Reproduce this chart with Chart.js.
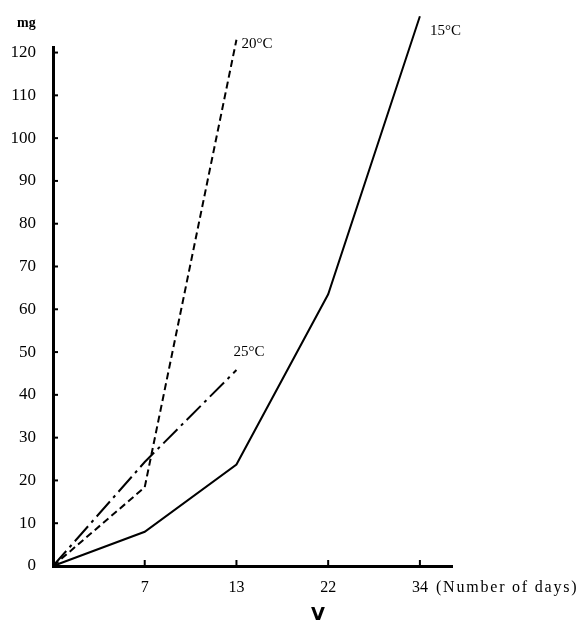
<!DOCTYPE html>
<html>
<head>
<meta charset="utf-8">
<script src="https://cdn.jsdelivr.net/npm/chart.js@4.4.1/dist/chart.umd.min.js"></script>
<style>
  html, body { margin: 0; padding: 0; background: #fff; }
  #wrap { position: relative; width: 581px; height: 623px; }
</style>
</head>
<body>
<div id="wrap"><canvas id="c" width="581" height="623"></canvas></div>
<script>
// ---- data ----
const dayLabels = ['', '7', '13', '22', '34'];   // category labels (day index 0..4)
const yTickValues = [0, 10, 20, 30, 40, 50, 60, 70, 80, 90, 100, 110, 120];
const seriesNames = ['15°C', '20°C', '25°C'];
const values15 = [0, 8, 23.7, 63.5, 128.5];
const values20 = [0, 18.4, 123];
const values25 = [0, 24.3, 45.8];

// ---- styles ----
const serif = '"Liberation Serif", "DejaVu Serif", serif';
const labelOffsets = [[10, 15], [5, 4], [-3, -18]];
const dashes = [[], [7, 4], [20, 5, 3, 5]];

function toPoints(vals) { return vals.map((v, i) => ({ x: i, y: v })); }
const allValues = [values15, values20, values25];

const datasets = allValues.map((vals, k) => ({
  label: seriesNames[k],
  data: toPoints(vals),
  borderColor: '#000',
  borderWidth: 2,
  borderDash: dashes[k],
  pointRadius: 0,
  fill: false,
  tension: 0,
  clip: false
}));

const decor = {
  id: 'decor',
  afterDraw(chart) {
    const ctx = chart.ctx;
    const xs = chart.scales.x, ys = chart.scales.y;
    ctx.save();
    ctx.strokeStyle = '#000';
    ctx.lineWidth = 2;
    // inward tick marks
    yTickValues.forEach(v => {
      if (v === 0) return;
      const py = ys.getPixelForValue(v);
      ctx.beginPath(); ctx.moveTo(xs.left, py); ctx.lineTo(xs.left + 5, py); ctx.stroke();
    });
    dayLabels.forEach((l, i) => {
      if (!l) return;
      const px = xs.getPixelForValue(i);
      ctx.beginPath(); ctx.moveTo(px, ys.bottom); ctx.lineTo(px, ys.bottom - 6); ctx.stroke();
    });
    // series labels at line ends
    ctx.fillStyle = '#000';
    ctx.font = '15px ' + serif;
    ctx.textBaseline = 'middle';
    ctx.textAlign = 'left';
    chart.data.datasets.forEach((ds, k) => {
      const last = ds.data[ds.data.length - 1];
      const px = xs.getPixelForValue(last.x), py = ys.getPixelForValue(last.y);
      ctx.fillText(ds.label, px + labelOffsets[k][0], py + labelOffsets[k][1]);
    });
    // unit label
    ctx.font = 'bold 14px ' + serif;
    ctx.fillText('mg', 17, 23);
    // axis caption after last tick
    ctx.font = '16px ' + serif;
    ctx.letterSpacing = '1.8px';
    const lastPx = xs.getPixelForValue(dayLabels.length - 1);
    ctx.fillText('(Number of days)', lastPx + 16, 588);
    ctx.letterSpacing = '0px';
    // figure mark
    ctx.font = 'bold 18px "DejaVu Sans", sans-serif';
    ctx.textBaseline = 'top';
    ctx.fillText('V', 311, 606);
    ctx.restore();
  }
};

new Chart(document.getElementById('c'), {
  type: 'line',
  data: { datasets },
  options: {
    responsive: false,
    animation: false,
    layout: { padding: { left: 0, top: 47, right: 129, bottom: 0 } },
    plugins: { legend: { display: false }, tooltip: { enabled: false } },
    scales: {
      x: {
        type: 'linear',
        min: 0,
        max: 4.35,
        grid: { display: false },
        border: { display: true, color: '#000', width: 3 },
        afterBuildTicks: s => { s.ticks = dayLabels.map((l, i) => ({ value: i })); },
        afterFit: s => { s.height = 57; },
        ticks: {
          autoSkip: false,
          maxRotation: 0,
          padding: 4,
          color: '#000',
          font: { family: serif, size: 16 },
          callback: v => dayLabels[v] || ''
        }
      },
      y: {
        min: 0,
        max: 121.3,
        grid: { display: false },
        border: { display: true, color: '#000', width: 3 },
        afterBuildTicks: s => { s.ticks = yTickValues.map(v => ({ value: v })); },
        afterFit: s => { s.width = 53; },
        ticks: {
          padding: 9,
          color: '#000',
          font: { family: serif, size: 17 },
          callback: v => String(v)
        }
      }
    }
  },
  plugins: [decor]
});
</script>
</body>
</html>
